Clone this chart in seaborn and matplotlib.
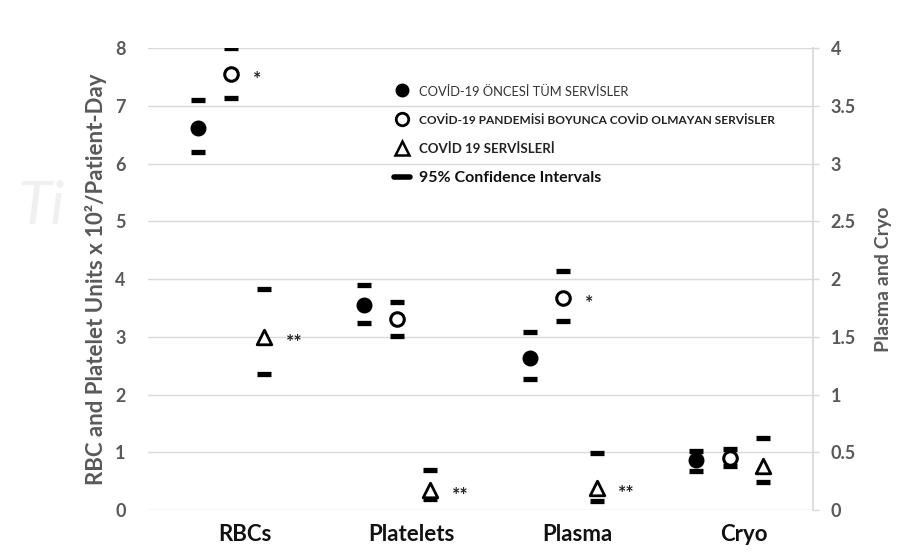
import numpy as np
import pandas as pd
import seaborn as sns
import matplotlib.pyplot as plt
import matplotlib.transforms as mtransforms
from matplotlib.lines import Line2D

# Blood products (RBCs/Platelets -> left axis, Plasma/Cryo -> right axis)
products = ["RBCs", "Platelets", "Plasma", "Cryo"]
right_axis = [False, False, True, True]

# mean values and 95% CI bounds per group
pre_mean = [6.61, 3.55, 1.32, 0.43]
pre_low = [6.20, 3.23, 1.13, 0.34]
pre_high = [7.10, 3.90, 1.54, 0.51]

non_mean = [7.55, 3.30, 1.84, 0.45]
non_low = [7.14, 3.02, 1.64, 0.38]
non_high = [8.00, 3.60, 2.07, 0.53]

cov_mean = [2.99, 0.35, 0.19, 0.38]
cov_low = [2.36, 0.19, 0.08, 0.24]
cov_high = [3.82, 0.69, 0.49, 0.62]

non_stars = ["*", "", "*", ""]
cov_stars = ["**", "**", "**", ""]

legend_labels = ["COVİD-19 ÖNCESİ TÜM SERVİSLER",
                 "COVİD-19 PANDEMİSİ BOYUNCA COVİD OLMAYAN SERVİSLER",
                 "COVİD 19 SERVİSLERİ",
                 "95% Confidence Intervals"]

# tabelle bauen
rows = []
groups = [("pre", pre_mean, pre_low, pre_high, [""] * 4, -0.2),
          ("non", non_mean, non_low, non_high, non_stars, 0.0),
          ("cov", cov_mean, cov_low, cov_high, cov_stars, 0.2)]
for g, m, lo, hi, st, off in groups:
    for i, p in enumerate(products):
        rows.append({"group": g, "product": p, "x": i + off, "right": right_axis[i],
                     "mean": m[i], "low": lo[i], "high": hi[i], "star": st[i]})
df = pd.DataFrame(rows)

sns.set_theme(style="white")
plt.rcParams['font.family'] = ['Lato', 'DejaVu Sans']

fig, ax = plt.subplots(figsize=(9.05, 5.59), dpi=100)
fig.subplots_adjust(left=0.1635, right=0.898, bottom=0.0877, top=0.914)
ax2 = ax.twinx()

styles = {"pre": dict(marker="o", s=110, color="black", edgecolor="black", linewidth=1),
          "non": dict(marker="o", s=95, color="white", edgecolor="black", linewidth=2.2),
          "cov": dict(marker="^", s=110, color="white", edgecolor="black", linewidth=2.0)}

for target, flag in [(ax, False), (ax2, True)]:
    sub = df[df["right"] == flag]
    for col in ["low", "high"]:
        sns.scatterplot(data=sub, x="x", y=col, ax=target, marker="_", s=105,
                        color="black", linewidth=3.8, legend=False, zorder=3)
    for g, kw in styles.items():
        sns.scatterplot(data=sub[sub["group"] == g], x="x", y="mean", ax=target,
                        legend=False, zorder=4, **kw)
    for _, r in sub[sub["star"] != ""].iterrows():
        target.annotate(r["star"], (r["x"] + 0.13, r["mean"]), xytext=(0, -4),
                        textcoords="offset points", ha="left", va="center",
                        fontsize=14, fontweight="bold", color="#222222")

# achsen
ax.set_xlim(-0.5, 3.5)
ax.set_ylim(0, 8)
ax2.set_ylim(0, 4)
ax.set_yticks(range(0, 9))
ax2.set_yticks(np.arange(0, 4.01, 0.5))
ax2.set_yticklabels(["0", "0.5", "1", "1.5", "2", "2.5", "3", "3.5", "4"])
ax.set_xticks(range(len(products)))
ax.set_xticklabels(products, fontsize=16, fontweight="bold", color="#111111")
ax.tick_params(axis="x", length=0, pad=10)
ax.tick_params(axis="y", length=0, pad=16, labelsize=13, labelcolor="#595959")
ax2.tick_params(axis="y", length=4, width=1, color="#d9d9d9", pad=9,
                labelsize=13, labelcolor="#595959")
for t in ax.get_yticklabels() + ax2.get_yticklabels():
    t.set_fontweight("bold")

# x-Beschriftungen etwas nach rechts schieben
shift = mtransforms.ScaledTranslation(14 / 100, 0, fig.dpi_scale_trans)
for t in ax.get_xticklabels():
    t.set_transform(t.get_transform() + shift)

# grid
ax.grid(True, axis="y", color="#d9d9d9", linewidth=1)
ax.set_axisbelow(True)
for s in ax.spines.values():
    s.set_visible(False)
for s in ax2.spines.values():
    s.set_visible(False)
ax2.spines["right"].set_visible(True)
ax2.spines["right"].set_color("#d9d9d9")

ax.set_xlabel("")
ax.set_ylabel("RBC and Platelet Units x 10²/Patient-Day", fontsize=16,
              fontweight="bold", color="#595959", labelpad=6)
ax2.set_xlabel("")
ax2.set_ylabel("Plasma and Cryo", fontsize=14, fontweight="bold",
               color="#595959", labelpad=14)

# legende
handles = [Line2D([], [], marker="o", color="black", linestyle="none", markersize=9),
           Line2D([], [], marker="o", color="black", markerfacecolor="white",
                  markeredgewidth=2, linestyle="none", markersize=9),
           Line2D([], [], marker="^", color="black", markerfacecolor="white",
                  markeredgewidth=1.8, linestyle="none", markersize=10),
           Line2D([], [], color="black", linewidth=4)]
leg = ax2.legend(handles, legend_labels, loc="upper left", bbox_to_anchor=(0.35, 0.95),
                 frameon=False, handlelength=1.0, handletextpad=0.6, labelspacing=1.05)
sizes = [9.3, 8.6, 9.5, 11.5]
weights = ["normal", "bold", "bold", "bold"]
colors = ["#333333", "#222222", "#222222", "#111111"]
for t, fs, w, c in zip(leg.get_texts(), sizes, weights, colors):
    t.set_fontsize(fs)
    t.set_fontweight(w)
    t.set_color(c)

# wasserzeichen
fig.text(0.02, 0.6, "Ti", fontsize=44, style="italic", color="#f0f0f0", zorder=0)

fig.savefig("out.png", dpi=100)
